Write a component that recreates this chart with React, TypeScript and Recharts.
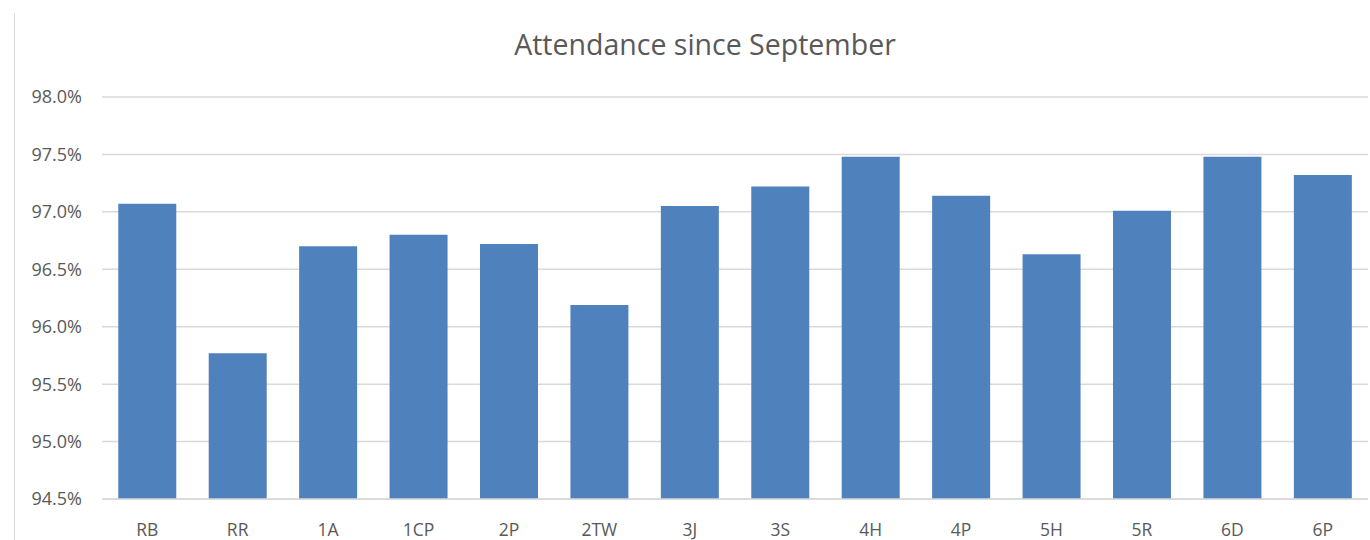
import React from "react";
import { BarChart, Bar, XAxis, YAxis, CartesianGrid } from "recharts";

const categories = ["RB", "RR", "1A", "1CP", "2P", "2TW", "3J", "3S", "4H", "4P", "5H", "5R", "6D", "6P"];
const attendance = [97.07, 95.77, 96.7, 96.8, 96.72, 96.19, 97.05, 97.22, 97.48, 97.14, 96.63, 97.01, 97.48, 97.32];
const yTicks = [94.5, 95.0, 95.5, 96.0, 96.5, 97.0, 97.5, 98.0];

const data = categories.map((c, i) => ({ name: c, value: attendance[i] }));

const FONT = "'Open Sans', 'Noto Sans', sans-serif";

export default function App() {
  return (
    <div style={{ position: "absolute", left: 0, top: 0, width: 1370, height: 540, background: "#fff", fontFamily: FONT }}>
      <div style={{ position: "absolute", left: 14, top: 13, width: 0, height: 527, borderLeft: "1px solid #D9D9D9" }} />
      <div
        style={{
          position: "absolute",
          left: 0,
          width: 1410,
          top: 25,
          textAlign: "center",
          fontSize: 28.5,
          color: "#595959",
          fontFamily: FONT,
          lineHeight: "38px",
        }}
      >
        Attendance since September
      </div>
      <BarChart
        width={1370}
        height={540}
        data={data}
        margin={{ top: 97, right: 2, bottom: 0, left: 0 }}
        barCategoryGap="18%"
      >
        <CartesianGrid vertical={false} stroke="#D9D9D9" strokeWidth={1.5} />
        <XAxis
          dataKey="name"
          height={41}
          tickLine={false}
          axisLine={{ stroke: "#D9D9D9", strokeWidth: 1.5 }}
          tickMargin={19}
          tick={{ fill: "#595959", fontSize: 17.5, fontFamily: FONT }}
          interval={0}
        />
        <YAxis
          width={102}
          domain={[94.5, 98]}
          ticks={yTicks}
          allowDataOverflow
          tickLine={false}
          axisLine={false}
          tickMargin={14}
          tickFormatter={(v: number) => `${v.toFixed(1)}%`}
          tick={{ fill: "#595959", fontSize: 18, fontFamily: FONT }}
        />
        <Bar dataKey="value" fill="#4F81BD" isAnimationActive={false} />
      </BarChart>
    </div>
  );
}
